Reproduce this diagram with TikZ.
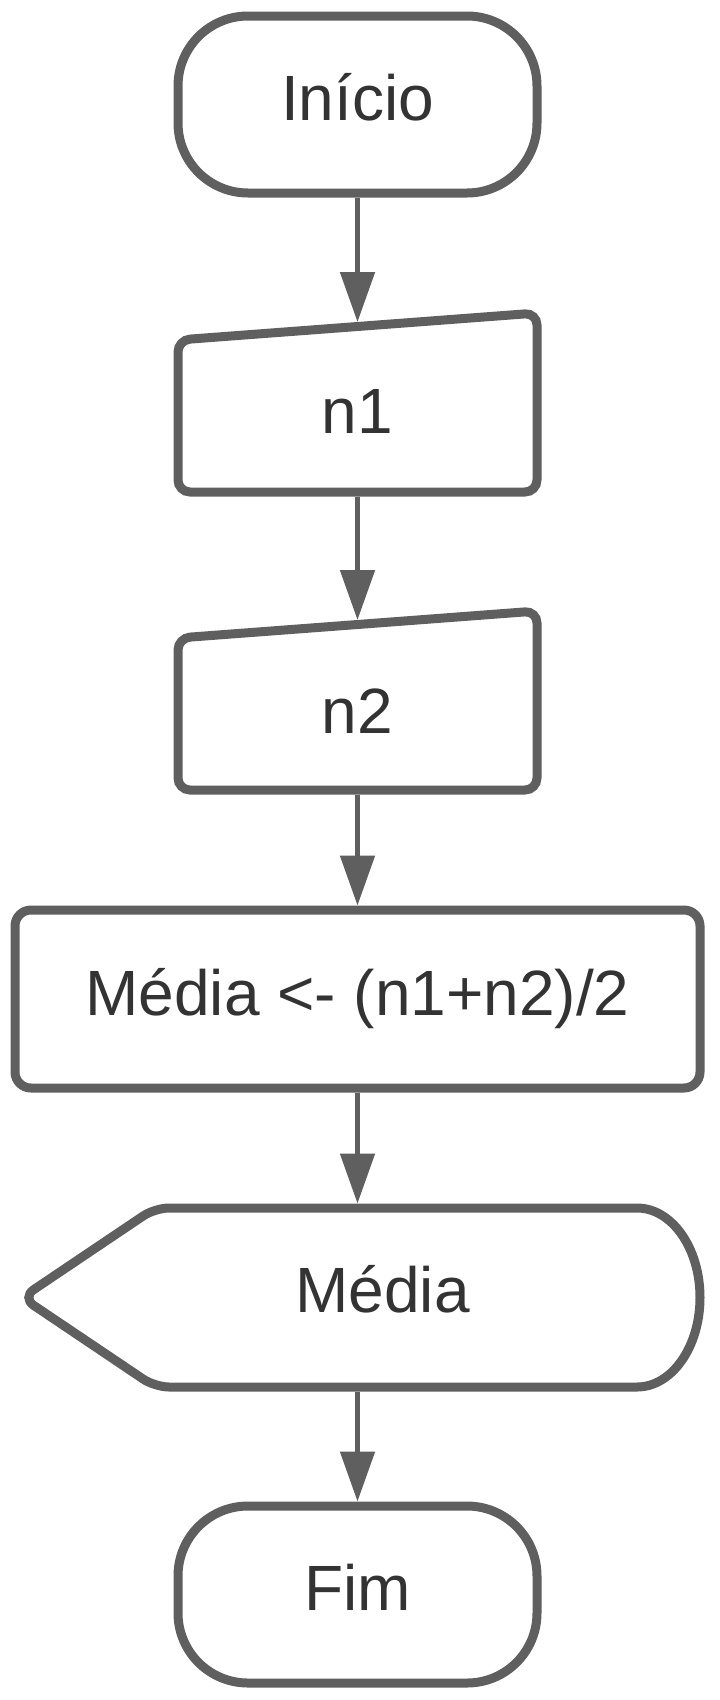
\documentclass[tikz,border=0pt]{standalone}
\usepackage{fontspec}
\setmainfont{Liberation Sans}
\usetikzlibrary{arrows.meta}
\definecolor{edgegray}{HTML}{5F5F5F}
\definecolor{inkgray}{HTML}{333333}
\tikzset{
  shapeline/.style={draw=edgegray, line width=9pt, fill=white},
  lbl/.style={text=inkgray, font=\fontsize{64}{76}\selectfont, inner sep=0pt, text height=45pt, text depth=13pt},
  term/.style={shapeline, lbl, rectangle, rounded corners=70pt, minimum width=359pt, minimum height=177pt},
  proc/.style={shapeline, lbl, rectangle, rounded corners=16pt, minimum width=685pt, minimum height=178pt},
  flow/.style={draw=edgegray, line width=5pt, -{Triangle[length=50pt,width=34pt]}},
}
\begin{document}
\begin{tikzpicture}[x=1pt,y=1pt]
\useasboundingbox (0,0) rectangle (720,-1700);
\fill[white] (0,0) rectangle (720,-1700);

% Inicio
\node[term] (inicio) at (357.5,-104.5) {Início};

% n1 (manual input)
\draw[shapeline, rounded corners=12pt] (357.5,-492) -- (178,-492) -- (178,-340) -- (537,-313) -- (537,-492) -- (357.5,-492);
\node[lbl] (n1) at (357.5,-417) {n1};
\coordinate (n1top) at (357.5,-322);
\coordinate (n1bot) at (357.5,-496.5);

% n2 (manual input)
\draw[shapeline, rounded corners=12pt] (357.5,-790) -- (178,-790) -- (178,-638) -- (537,-611) -- (537,-790) -- (357.5,-790);
\node[lbl] (n2) at (357.5,-717) {n2};
\coordinate (n2top) at (357.5,-620);
\coordinate (n2bot) at (357.5,-794.5);

% process
\node[proc] (calc) at (357.5,-999) {Média <- (n1+n2)/2};

% display
\draw[shapeline] (400,-1208) -- (637,-1208) arc[start angle=90,end angle=-90,x radius=63,y radius=89.5]
  [rounded corners=14pt] -- (155,-1387) -- (22,-1297.5) -- (155,-1208) -- (400,-1208);
\node[lbl] (out) at (382.5,-1296) {Média};
\coordinate (outtop) at (357.5,-1203.5);
\coordinate (outbot) at (357.5,-1391.5);

% Fim
\node[term] (fim) at (357.5,-1594.5) {Fim};

% connectors
\draw[flow] (inicio.south) -- (n1top);
\draw[flow] (n1bot) -- (n2top);
\draw[flow] (n2bot) -- (calc.north);
\draw[flow] (calc.south) -- (outtop);
\draw[flow] (outbot) -- (fim.north);
\end{tikzpicture}
\end{document}
